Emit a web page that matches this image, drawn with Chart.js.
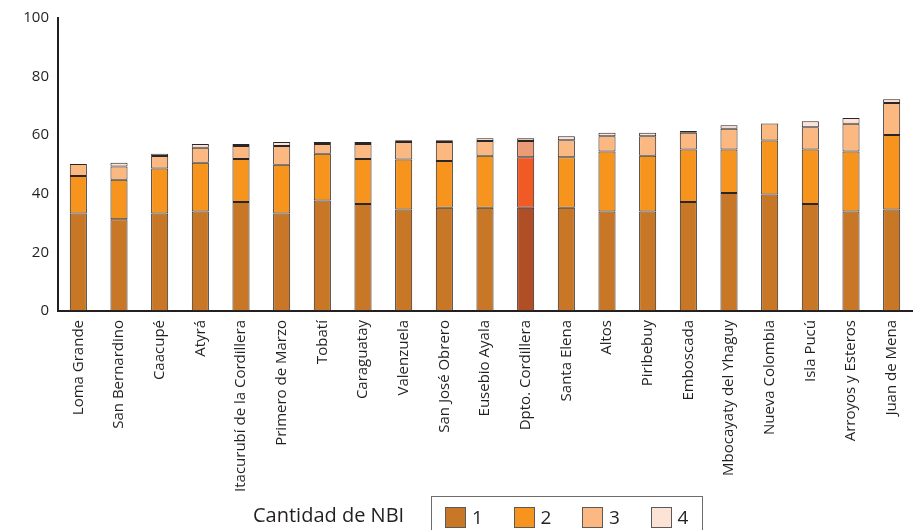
<!DOCTYPE html>
<html>
<head>
<meta charset="utf-8">
<script src="https://cdn.jsdelivr.net/npm/chart.js@4/dist/chart.umd.min.js"></script>
<style>
    body { margin: 0; background: #fff; overflow: hidden; }
    #wrap { position: relative; width: 922px; height: 530px; overflow: hidden; }
    #legendTitle { position: absolute; left: 253px; top: 501px; font: 20px "Open Sans", sans-serif; color: #231f20; white-space: nowrap; }
    #legendBox { position: absolute; left: 431px; top: 496px; width: 272px; height: 60px; border: 1px solid #6d6d6d; box-sizing: border-box; }
    .item { position: absolute; top: 9px; height: 22px; display: flex; align-items: center; font: 19px "Open Sans", sans-serif; color: #231f20; }
    .swatch { width: 21px; height: 21px; border: 1px solid #5a5a5a; box-sizing: border-box; margin-right: 6px; }
</style>
</head>
<body>
<div id="wrap">
    <canvas id="nbiChart"></canvas>
    <div id="legendTitle">Cantidad de NBI</div>
    <div id="legendBox"></div>
</div>
<script>
// Distritos (eje X)
const categories = [
    'Loma Grande', 'San Bernardino', 'Caacupé', 'Atyrá', 'Itacurubí de la Cordillera',
    'Primero de Marzo', 'Tobatí', 'Caraguatay', 'Valenzuela', 'San José Obrero',
    'Eusebio Ayala', 'Dpto. Cordillera', 'Santa Elena', 'Altos', 'Piribebuy',
    'Emboscada', 'Mbocayaty del Yhaguy', 'Nueva Colombia', 'Isla Pucú', 'Arroyos y Esteros',
    'Juan de Mena'
];

// Porcentaje de hogares según cantidad de NBI
const nbi1 = [33.3, 31.3, 33.3, 34.0, 37.2, 33.3, 37.7, 36.5, 34.6, 35.2, 35.2, 35.2, 35.2, 34.0, 34.0, 37.2, 40.3, 39.8, 36.5, 34.0, 34.6];
const nbi2 = [12.8, 13.5, 15.3, 16.6, 14.7, 16.6, 16.0, 15.4, 17.1, 16.0, 17.8, 17.3, 17.3, 20.4, 19.0, 17.9, 14.8, 18.4, 18.6, 20.4, 25.5];
const nbi3 = [4.1, 4.5, 4.3, 5.1, 4.4, 6.4, 3.3, 5.1, 6.0, 6.5, 5.0, 5.5, 5.8, 5.2, 6.6, 5.7, 7.1, 5.8, 7.6, 9.5, 10.9];
const nbi4 = [0, 1.3, 0.8, 1.3, 0.7, 1.4, 0.7, 0.7, 0.6, 0.6, 1.0, 1.0, 1.3, 1.2, 1.2, 0.6, 1.2, 0, 2.1, 2.0, 1.3];

const seriesLabels = ['1', '2', '3', '4'];
const yTicks = [0, 20, 40, 60, 80, 100];

const colors = ['#c87726', '#f7941d', '#fbb880', '#fde3d6'];
const highlightColors = ['#b04f25', '#f15a24', '#ec9b74', '#f2c2ad']; // total departamento
const highlightIndex = categories.indexOf('Dpto. Cordillera');

const seriesData = [nbi1, nbi2, nbi3, nbi4];

const datasets = seriesData.map((data, i) => ({
    label: seriesLabels[i],
    data: data,
    backgroundColor: ctx => ctx.dataIndex === highlightIndex ? highlightColors[i] : colors[i],
    borderColor: '#2a2526',
    borderWidth: 1,
    borderSkipped: false,
    categoryPercentage: 1,
    barPercentage: 0.42
}));

new Chart(document.getElementById('nbiChart'), {
    type: 'bar',
    data: { labels: categories, datasets: datasets },
    options: {
        responsive: true,
        maintainAspectRatio: false,
        animation: false,
        layout: { padding: { left: 0, right: 10, top: 15, bottom: 0 } },
        plugins: {
            legend: { display: false },
            tooltip: { enabled: false }
        },
        scales: {
            x: {
                stacked: true,
                grid: { display: false, drawTicks: false },
                border: { display: true, color: '#231f20', width: 2 },
                ticks: {
                    autoSkip: false,
                    minRotation: 90,
                    maxRotation: 90,
                    padding: 9,
                    color: '#231f20',
                    font: { family: '"Open Sans", sans-serif', size: 15 }
                },
                afterFit: scale => { scale.height = 219; }
            },
            y: {
                stacked: true,
                min: 0,
                max: 100,
                grid: { display: false, drawTicks: false },
                border: { display: true, color: '#231f20', width: 2 },
                afterBuildTicks: scale => { scale.ticks = yTicks.map(v => ({ value: v })); },
                ticks: {
                    padding: 9,
                    color: '#231f20',
                    font: { family: '"Open Sans", sans-serif', size: 15 }
                },
                afterFit: scale => { scale.width = 58; }
            }
        }
    }
});

// Leyenda
const legendBox = document.getElementById('legendBox');
seriesLabels.forEach((text, i) => {
    const item = document.createElement('div');
    item.className = 'item';
    item.style.left = (13 + i * 68.5) + 'px';
    const sw = document.createElement('span');
    sw.className = 'swatch';
    sw.style.background = colors[i];
    item.appendChild(sw);
    item.appendChild(document.createTextNode(text));
    legendBox.appendChild(item);
});
</script>
</body>
</html>
